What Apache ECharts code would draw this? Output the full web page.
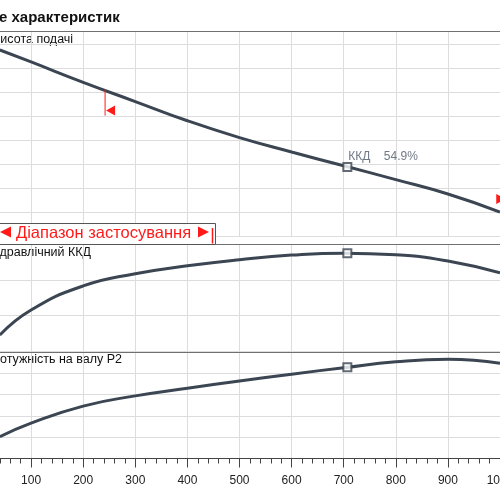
<!DOCTYPE html>
<html style="height: 100%">
<head>
	<meta charset="utf-8">
</head>
<body style="height: 100%; margin: 0">
<div id="container" style="width: 500px; height: 500px"></div>
<script type="text/javascript" src="https://cdn.jsdelivr.net/npm/echarts@6/dist/echarts.min.js"></script>
<script type="text/javascript">
    // подача Q, м3/год
    var flow = [40, 100, 200, 300, 400, 500, 600, 700, 800, 900, 1000];
    // висота подачі H, м
    var head = [15.5, 14.5, 12.8, 11.2, 9.6, 8.2, 7.0, 5.85, 4.7, 3.5, 2.0];
    // гідравлічний ККД, %
    var efficiency = [9.2, 23.2, 36.6, 43.4, 47.8, 51.2, 53.8, 54.9, 54.0, 50.5, 43.9];
    // потужність на валу P2, кВт
    var power = [5.1, 8.3, 12.3, 14.7, 16.5, 18.2, 19.8, 21.3, 22.7, 23.3, 22.35];

    // робоча точка
    var dutyQ = 707;
    var dutyH = 5.75;
    var dutyEff = 54.9;
    var dutyP = 21.4;

    // межі діапазону застосування
    var rangeQ = [242, 1012];
    var rangeH = [12.2, 1.75];

    var xTicks = [0, 100, 200, 300, 400, 500, 600, 700, 800, 900, 1000];

    var curveColor = '#3b4652';
    var gridColor = '#dcdcdc';
    var red = '#ff1a1a';
    var font = 'Liberation Sans';

    function zip(xs, ys) {
        var res = [];
        for (var i = 0; i < xs.length; i++) {
            res.push([xs[i], ys[i]]);
        }
        return res;
    }

    var dom = document.getElementById("container");
    var myChart = echarts.init(dom);

    var topAxis = function (gridIndex, split) {
        return {
            type: 'value',
            gridIndex: gridIndex,
            position: 'top',
            min: xTicks[0],
            max: xTicks[xTicks.length - 1],
            interval: 100,
            axisLine: {show: true, onZero: false, lineStyle: {color: '#707070', width: 1}},
            axisTick: {show: false},
            axisLabel: {show: false},
            splitLine: {show: split, lineStyle: {color: gridColor}}
        };
    };

    var yAxis = function (gridIndex, min, max, interval) {
        return {
            type: 'value',
            gridIndex: gridIndex,
            min: min,
            max: max,
            interval: interval,
            axisLine: {show: false},
            axisTick: {show: false},
            axisLabel: {show: false},
            splitLine: {show: true, lineStyle: {color: gridColor}}
        };
    };

    var curve = function (xi, yi, values) {
        return {
            type: 'line',
            xAxisIndex: xi,
            yAxisIndex: yi,
            smooth: true,
            showSymbol: false,
            lineStyle: {color: curveColor, width: 3},
            data: zip(flow, values)
        };
    };

    var dutyMarker = function (xi, yi, value, label) {
        return {
            type: 'scatter',
            xAxisIndex: xi,
            yAxisIndex: yi,
            symbol: 'rect',
            symbolSize: 8,
            z: 5,
            itemStyle: {color: '#fff', borderColor: curveColor, borderWidth: 2},
            label: label ? {
                show: true,
                position: [6, -5],
                align: 'left',
                verticalAlign: 'middle',
                formatter: label,
                color: '#4b5866',
                fontFamily: font,
                fontSize: 12
            } : {show: false},
            data: [[dutyQ, value]]
        };
    };

    var option = {
        animation: false,
        backgroundColor: '#fff',
        grid: [
            {left: -21, right: 0, top: 31, height: 205, outerBoundsMode: 'none'},
            {left: -21, right: 0, top: 244, height: 107.5, outerBoundsMode: 'none'},
            {left: -21, right: 0, top: 352, height: 106.5, outerBoundsMode: 'none'}
        ],
        xAxis: [
            topAxis(0, true),
            topAxis(1, true),
            topAxis(2, false),
            {
                type: 'value',
                gridIndex: 2,
                position: 'bottom',
                min: xTicks[0],
                max: xTicks[xTicks.length - 1],
                interval: 100,
                axisLine: {show: true, onZero: false, lineStyle: {color: '#444', width: 1}},
                axisTick: {show: true, length: 9, lineStyle: {color: '#444'}},
                minorTick: {show: true, splitNumber: 5, length: 5, lineStyle: {color: '#444'}},
                axisLabel: {
                    color: '#222', fontFamily: font, fontSize: 12, margin: 16,
                    formatter: function (v) { return String(v); }
                },
                splitLine: {show: true, lineStyle: {color: gridColor}}
            }
        ],
        yAxis: [
            yAxis(0, 0, 17.08, 2),
            yAxis(1, 0, 60, 20),
            yAxis(2, 0, 25, 5)
        ],
        graphic: [
            {
                type: 'text', left: -1, top: 10,
                style: {text: 'е характеристик', font: 'bold 15px "Liberation Sans"', fill: '#111'}
            },
            {
                type: 'text', left: -8, top: 33,
                style: {text: 'Висота подачі', font: '12.5px "Liberation Sans"', fill: '#111'}
            },
            {
                type: 'text', left: -10, top: 246,
                style: {text: 'Гідравлічний ККД', font: '12.5px "Liberation Sans"', fill: '#111'}
            },
            {
                type: 'text', left: -9, top: 353,
                style: {text: 'Потужність на валу P2', font: '12.5px "Liberation Sans"', fill: '#111'}
            },
            {
                type: 'rect', left: -1, top: 223, z: 100,
                shape: {width: 216, height: 21},
                style: {fill: '#fff', stroke: '#555', lineWidth: 1}
            },
            {
                type: 'polygon', z: 101,
                shape: {points: [[0, 232], [11, 226.5], [11, 237.5]]},
                style: {fill: red}
            },
            {
                type: 'text', left: 16, top: 225, z: 101,
                style: {text: 'Діапазон застосування', font: '16.5px "Liberation Sans"', fill: red}
            },
            {
                type: 'polygon', z: 101,
                shape: {points: [[209, 232], [198, 226.5], [198, 237.5]]},
                style: {fill: red}
            },
            {
                type: 'line', z: 101,
                shape: {x1: 212.5, y1: 228, x2: 212.5, y2: 243.5},
                style: {stroke: red, lineWidth: 1.5}
            }
        ],
        series: [
            curve(0, 0, head),
            curve(1, 1, efficiency),
            curve(3, 2, power),
            dutyMarker(0, 0, dutyH, 'ККД    ' + dutyEff + '%'),
            dutyMarker(1, 1, dutyEff, null),
            dutyMarker(3, 2, dutyP, null),
            {
                type: 'custom',
                xAxisIndex: 0,
                yAxisIndex: 0,
                z: 4,
                data: zip(rangeQ, rangeH),
                renderItem: function (params, api) {
                    var p = api.coord([api.value(0), api.value(1)]);
                    var s = params.dataIndex === 0 ? 1 : -1;
                    var ty = p[1] + (s > 0 ? 21 : -16);
                    return {
                        type: 'group',
                        children: [
                            {
                                type: 'line',
                                shape: {x1: p[0], y1: p[1], x2: p[0], y2: p[1] + s * 26},
                                style: {stroke: red, lineWidth: 1}
                            },
                            {
                                type: 'polygon',
                                shape: {points: [[p[0] + s, ty], [p[0] + s * 10, ty - 5], [p[0] + s * 10, ty + 5]]},
                                style: {fill: red}
                            }
                        ]
                    };
                }
            }
        ]
    };

    if (option && typeof option === "object") {
        myChart.setOption(option, true);
    }
</script>
</body>
</html>
